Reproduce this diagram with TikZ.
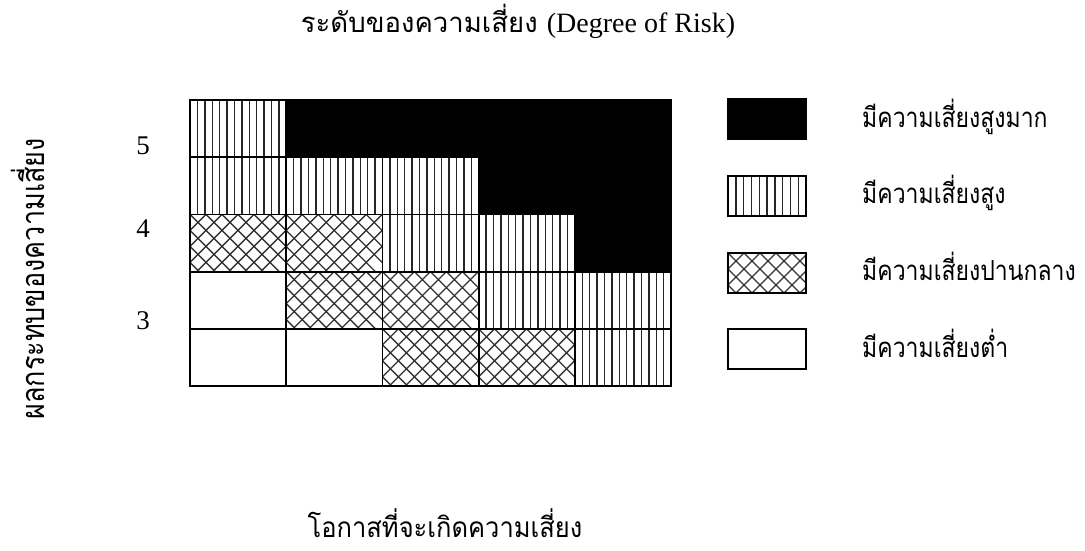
\documentclass[tikz,border=0pt]{standalone}
\usepackage{fontspec}
\setmainfont{Liberation Serif}
\newfontfamily\thaifont[Script=Thai]{Loma}
\begin{document}
\begin{tikzpicture}[x=1pt,y=-1pt,
  gridline/.style={line width=1.8pt},
  vhatch/.style={line width=1.4pt,black!85},
  xhatch/.style={line width=1.3pt,black!80},
  thaitext/.style={font=\thaifont\fontsize{23}{27}\selectfont},
  numtext/.style={font=\fontsize{27}{30}\selectfont}]
\useasboundingbox (0,0) rectangle (1085,551);
\def\gx{190}\def\gy{100}\def\cw{96.2}\def\rh{57.2}
% black cells
\foreach \c/\r in {1/0,2/0,3/0,4/0,3/1,4/1,4/2}
  \fill[black] (\gx+\c*\cw,\gy+\r*\rh) rectangle ++(\cw,\rh);
% vertical-line cells
\foreach \c/\r in {0/0,0/1,1/1,2/1,2/2,3/2,3/3,4/3,4/4}{
  \begin{scope}
  \clip (\gx+\c*\cw,\gy+\r*\rh) rectangle ++(\cw,\rh);
  \foreach \i in {1,...,12}
    \draw[vhatch] (\gx+\c*\cw+\i*7.4,\gy+\r*\rh) -- ++(0,\rh);
  \end{scope}}
% cross-hatched cells
\foreach \c/\r in {0/2,1/2,1/3,2/3,2/4,3/4}{
  \begin{scope}
  \clip (\gx+\c*\cw,\gy+\r*\rh) rectangle ++(\cw,\rh);
  \foreach \k in {-6,...,8}{
    \draw[xhatch] (\gx+\c*\cw+\k*16,\gy+\r*\rh) -- ++(70,70);
    \draw[xhatch] (\gx+\c*\cw+\k*16,\gy+\r*\rh) -- ++(-70,70);}
  \end{scope}}
% cell borders
\foreach \c in {0,...,4}
  \foreach \r in {0,...,4}
    \draw[gridline] (\gx+\c*\cw,\gy+\r*\rh) rectangle ++(\cw,\rh);
% legend boxes
\fill[black] (728,99) rectangle (806,139);
\begin{scope}
\clip (728,176) rectangle (806,216);
\foreach \i in {1,...,9} \draw[vhatch] (728+\i*7.8,176) -- ++(0,40);
\end{scope}
\begin{scope}
\clip (728,253) rectangle (806,293);
\foreach \k in {-4,...,9}{
  \draw[xhatch] (728+\k*16,253) -- ++(50,50);
  \draw[xhatch] (728+\k*16,253) -- ++(-50,50);}
\end{scope}
\foreach \yy in {99,176,253,329}
  \draw[gridline] (728,\yy) rectangle ++(78,40);
% legend texts
\node[thaitext,anchor=base west,inner sep=0pt] (l1) at (862,127) {\scalebox{1}[1.2]{มีความเสี่ยงสูงมาก}};
\node[thaitext,anchor=base west,inner sep=0pt] (l2) at (862,203) {\scalebox{1}[1.2]{มีความเสี่ยงสูง}};
\node[thaitext,anchor=base west,inner sep=0pt] (l3) at (862,280) {\scalebox{1}[1.2]{มีความเสี่ยงปานกลาง}};
\node[thaitext,anchor=base west,inner sep=0pt] (l4) at (862,357) {\scalebox{1}[1.2]{มีความเสี่ยงต่ำ}};
% axis numbers
\node[numtext] (n5) at (143,146) {5};
\node[numtext] (n4) at (143,229) {4};
\node[numtext] (n3) at (143,321) {3};
% titles
\node[anchor=base,inner sep=0pt] (title) at (518,33) {\thaifont\fontsize{27.5}{30}\selectfont ระดับของความเสี่ยง\ \normalfont\fontsize{28}{30}\selectfont(Degree of Risk)};
\node[anchor=base,inner sep=0pt,font=\thaifont\fontsize{25.5}{28}\selectfont] (xlab) at (445,537) {\scalebox{1}[1.1]{โอกาสที่จะเกิดความเสี่ยง}};
\node[anchor=base,inner sep=0pt,rotate=90,font=\thaifont\fontsize{27}{30}\selectfont] (ylab) at (45,279) {\scalebox{1}[1.2]{ผลกระทบของความเสี่ยง}};
\end{tikzpicture}
\end{document}
